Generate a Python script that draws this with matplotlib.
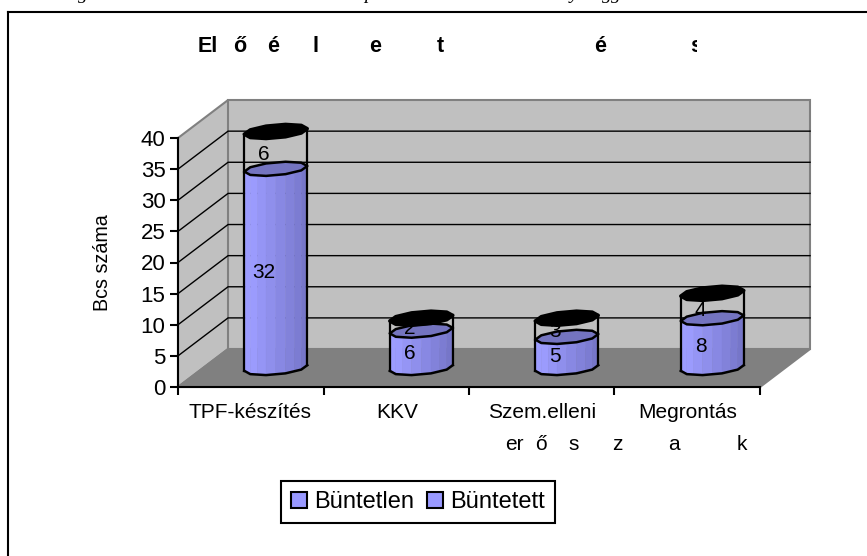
import numpy as np
import matplotlib
matplotlib.use("Agg")
import matplotlib.pyplot as plt
from matplotlib.lines import Line2D
from matplotlib.patches import Patch, Polygon
from matplotlib.transforms import Bbox

plt.rcParams['font.family'] = ['Liberation Sans', 'DejaVu Sans']

W, H = 867, 556

categories = ["TPF-készítés", "KKV", "Szem.elleni", "Megrontás"]
series_names = ["Büntetlen", "Büntetett"]
buntetlen = [32, 6, 5, 8]
buntetett = [6, 2, 3, 4]
yticks = [0, 5, 10, 15, 20, 25, 30, 35, 40]
ylabel = "Bcs száma"
title_chars = ["El", "ő", "é", "l", "e", "t", "é", "s"]
title_pos = [208, 240, 273, 316, 375, 440, 600, 696]
wrap_chars = ["er", "ő", "s", "z", "a", "k"]
wrap_pos = [514, 541, 574, 617, 674, 742]
cat_pos = [250, 397, 542, 688]
caption_chars = ["g", "p", "y", "g", "g"]
caption_pos = [83, 369, 574, 607, 616]

DX = 0.344   # melyseg, kategoria egysegben
DY = 6.1     # melyseg, ertek egysegben
RX = 0.2165
RY = 1.05
SKEW = 0.45
LIGHT = np.array([0x9c, 0x9c, 0xff]) / 255
DARK = np.array([0x70, 0x70, 0xc0]) / 255


def px(x, y):
    return x / W, 1 - y / H


def ring(cx, y, t):
    return cx + RX * np.cos(t), y + RY * np.sin(t) + SKEW * np.cos(t)


def disc(ax, cx, y, color, z, lw=1.8):
    t = np.linspace(0, 2 * np.pi, 11)[:-1]
    xs, ys = ring(cx, y, t)
    ax.add_patch(Polygon(np.c_[xs, ys], closed=True, fc=color, ec='black', lw=lw,
                         joinstyle='round', zorder=z, clip_on=False))


def body(ax, cx, y0, y1, z):
    t = np.linspace(np.pi, 2 * np.pi, 11)
    for i in range(len(t) - 1):
        frac = i / (len(t) - 2)
        col = LIGHT if frac < 0.2 else LIGHT + (DARK - LIGHT) * (frac - 0.2) / 0.8
        xa, ya = ring(cx, y0, t[i:i + 2])
        xb, yb = ring(cx, y1, t[i:i + 2])
        pts = np.c_[np.r_[xa, xb[::-1]], np.r_[ya, yb[::-1]]]
        ax.add_patch(Polygon(pts, closed=True, fc=col, ec=col, lw=0.3, zorder=z, clip_on=False))
    xs, ys = ring(cx, y0, np.linspace(np.pi, 2 * np.pi, 6))
    ax.plot(xs, ys, color='black', lw=1.8, zorder=z + 0.1, clip_on=False)


def sides(ax, cx, y0, y1, z):
    for s in (np.pi, 2 * np.pi):
        xa, ya = ring(cx, y0, s)
        xb, yb = ring(cx, y1, s)
        ax.plot([xa, xb], [ya, yb], color='black', lw=1.6, zorder=z, clip_on=False)


fig = plt.figure(figsize=(W / 100, H / 100), dpi=100)
ax = fig.add_axes([178 / W, 1 - 387 / H, (760 - 178) / W, (387 - 138) / H])
ax.patch.set_alpha(0)
ax.set_xlim(0, 4)
ax.set_ylim(0, 40)
ax.set_xticks([0, 1, 2, 3, 4])
ax.set_xticklabels([])
ax.set_yticks(yticks)
ax.tick_params(axis='both', length=6, width=1.5, labelsize=16, pad=3)
for s in ('top', 'right'):
    ax.spines[s].set_visible(False)
for s in ('left', 'bottom'):
    ax.spines[s].set_linewidth(1.5)
    ax.spines[s].set_zorder(20)

# falak es padlo
wall = dict(closed=True, ec='#808080', lw=1.5, clip_on=False, zorder=1)
ax.add_patch(Polygon([(0, 0), (DX, DY), (DX, 40 + DY), (0, 40)], fc='#c0c0c0', **wall))
ax.add_patch(Polygon([(DX, DY), (4 + DX, DY), (4 + DX, 40 + DY), (DX, 40 + DY)], fc='#c0c0c0', **wall))
ax.add_patch(Polygon([(0, 0), (4, 0), (4 + DX, DY), (DX, DY)], fc='#808080', **wall))
for v in yticks[1:-1]:
    ax.plot([0, DX, 4 + DX], [v, v + DY, v + DY], color='black', lw=1, zorder=2, clip_on=False)

for i in range(len(categories)):
    cx = i + 0.5 + DX / 2
    base = DY / 2
    low = base + buntetlen[i]
    top = low + buntetett[i]
    body(ax, cx, base, low, 3)
    disc(ax, cx, low, '#7474c0', 4)
    sides(ax, cx, base, low, 5)
    sides(ax, cx, low, top, 5)
    ax.text(cx - 0.08, base + buntetlen[i] / 2 - 0.6, str(buntetlen[i]), ha='center', va='center',
            fontsize=15, zorder=6)
    ax.text(cx - 0.08, low + buntetett[i] / 2 - 0.7, str(buntetett[i]), ha='center', va='center',
            fontsize=15, zorder=6)
    disc(ax, cx, top, 'black', 7, lw=2.5)

ax.set_ylabel(ylabel, fontsize=14.2, va='center')
ax.yaxis.set_label_coords(103 / W, 1 - 263 / H, transform=fig.transFigure)

for c, x in zip(categories, cat_pos):
    fig.text(*px(x, 413), c, ha='center', va='center', fontsize=15)
for c, x in zip(wrap_chars, wrap_pos):
    fig.text(*px(x, 444), c, ha='center', va='center', fontsize=15)

for c, x in zip(title_chars, title_pos):
    t = fig.text(x / W, 1 - 52 / H, c, ha='center', va='baseline', fontsize=15.5, fontweight='bold')
    if c == "s":
        t.set_clip_box(Bbox([[0, 0], [697, H]]))
        t.set_clip_on(True)

# levagott felirat a kep tetejen
for c, x in zip(caption_chars, caption_pos):
    fig.text(x / W, 1 + 1 / H, c, ha='center', va='baseline', fontsize=14, style='italic',
             family='Liberation Serif')

# keret (csak bal es felso latszik)
for xs, ys in (([8, 8], [12, H]), ([8, W], [12, 12])):
    fig.add_artist(Line2D(np.array(xs) / W, 1 - np.array(ys) / H, color='black', lw=1.5))

handles = [Patch(fc='#9999ff', ec='black', lw=1.5, label=n) for n in series_names]
fig.legend(handles=handles, ncol=2, loc='center', bbox_to_anchor=px(418, 502), fontsize=17,
           frameon=True, fancybox=False, framealpha=1, edgecolor='black', handlelength=0.68,
           handleheight=0.68, handletextpad=0.3, columnspacing=0.55, borderpad=0.42,
           borderaxespad=0).get_frame().set_linewidth(1.5)

fig.savefig("out.png", dpi=100)
